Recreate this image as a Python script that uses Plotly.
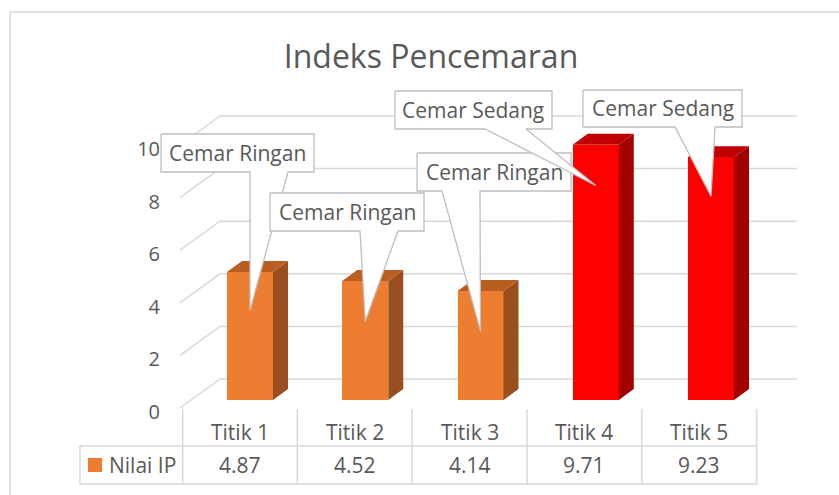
import plotly.graph_objects as go

# ---------------- data ----------------
title_text = "Indeks Pencemaran"
series_name = "Nilai IP"
categories = ["Titik 1", "Titik 2", "Titik 3", "Titik 4", "Titik 5"]
values = [4.87, 4.52, 4.14, 9.71, 9.23]
status = ["Cemar Ringan", "Cemar Ringan", "Cemar Ringan", "Cemar Sedang", "Cemar Sedang"]
y_ticks = [0, 2, 4, 6, 8, 10]
value_labels = ["4.87", "4.52", "4.14", "9.71", "9.23"]

# ---------------- style / layout ----------------
W, H = 839, 495
FONT = "Open Sans"
TXT = "#595959"
GRID = "#D9D9D9"
front_col = {"Cemar Ringan": "#ED7D31", "Cemar Sedang": "#FF0000"}
top_col = {"Cemar Ringan": "#BA5E20", "Cemar Sedang": "#C00000"}
side_col = {"Cemar Ringan": "#9A4F1E", "Cemar Sedang": "#A30000"}

X0, XS = 250.0, 115.25      # pixel of category 0, pixels per category
Y0, YS = 400.0, 26.3        # pixel of value 0 (bar front plane), pixels per unit
BW = 46 / XS                # bar width
DX, DY = 15 / XS, 11 / YS   # bar depth offsets

def xd(px):
    return (px - X0) / XS

def yd(py):
    return (Y0 - py) / YS

def paper_x(px):
    return px / W

def paper_y(py):
    return 1 - py / H

# wall / gridline geometry (pixels)
FRONT_PX, BACK_PX, RIGHT_PX = 180, 220, 797
FRONT_BASE_PY, BACK_BASE_PY = 408, 379

# table geometry
TX0, TXS = 240.0, 114.8      # table column centers
def x2d(px):
    return (px - TX0) / TXS

TABLE_LEFT_PX = 80
ROW_TOP_PY, ROW_MID_PY, ROW_BOT_PY = 409, 446, 484
CAT_PY, VAL_PY = 432, 465

# callouts: box (left, top, right, bottom) px, pointer base (left, right) px, tip fraction of bar height
callout_boxes = [(161, 134, 314, 172), (270, 193, 424, 231), (417, 153, 571, 191),
                 (395, 91, 552, 129), (583, 90, 742, 127)]
callout_bases = [(250, 288), (360, 398), (442, 480), (485, 526), (675, 715)]
tip_frac = [0.70, 0.66, 0.63, 0.84, 0.84]

fig = go.Figure()
shapes = []

# back wall gridlines (below the bars)
for v in y_ticks:
    pts = [(xd(FRONT_PX), v + yd(FRONT_BASE_PY)), (xd(BACK_PX), v + yd(BACK_BASE_PY)),
           (xd(RIGHT_PX), v + yd(BACK_BASE_PY))]
    path = "M " + " L ".join(f"{px},{py}" for px, py in pts)
    shapes.append(dict(type="path", xref="x", yref="y", path=path, layer="below",
                       line=dict(color=GRID, width=1.5)))

# bars: front faces
fig.add_trace(go.Bar(x=list(range(len(values))), y=values, width=BW,
                     marker=dict(color=[front_col[s] for s in status], line=dict(width=0)),
                     name=series_name, showlegend=False, hoverinfo="skip"))

# side and top faces
for i, v in enumerate(values):
    xl, xr = i - BW / 2, i + BW / 2
    fig.add_trace(go.Scatter(x=[xr, xr + DX, xr + DX, xr, xr], y=[0, DY, v + DY, v, 0],
                             fill="toself", fillcolor=side_col[status[i]], mode="lines",
                             line=dict(width=0, color=side_col[status[i]]),
                             hoverinfo="skip", showlegend=False))
    fig.add_trace(go.Scatter(x=[xl, xr, xr + DX, xl + DX, xl], y=[v, v, v + DY, v + DY, v],
                             fill="toself", fillcolor=top_col[status[i]], mode="lines",
                             line=dict(width=0, color=top_col[status[i]]),
                             hoverinfo="skip", showlegend=False))

# callouts
for i, v in enumerate(values):
    l, t, r, b = callout_boxes[i]
    bl, br = callout_bases[i]
    tip_x, tip_y = i, v * tip_frac[i]
    xs = [xd(l), xd(r), xd(r), xd(br), tip_x, xd(bl), xd(l), xd(l)]
    ys = [yd(t), yd(t), yd(b), yd(b), tip_y, yd(b), yd(b), yd(t)]
    fig.add_trace(go.Scatter(x=xs, y=ys, fill="toself", fillcolor="white", mode="lines",
                             line=dict(color="#BFBFBF", width=1.3),
                             hoverinfo="skip", showlegend=False))
    fig.add_annotation(x=paper_x((l + r) / 2), y=paper_y((t + b) / 2), xref="paper", yref="paper",
                       text=status[i], showarrow=False, xanchor="center", yanchor="middle",
                       font=dict(family=FONT, size=21, color=TXT))

# invisible traces to activate the secondary axes
fig.add_trace(go.Scatter(x=[0], y=[0], yaxis="y2", mode="markers", marker=dict(opacity=0),
                         hoverinfo="skip", showlegend=False))
fig.add_trace(go.Scatter(x=[0], y=[0], xaxis="x2", mode="markers", marker=dict(opacity=0),
                         hoverinfo="skip", showlegend=False))

# data table
n = len(categories)
for j in range(n + 1):
    shapes.append(dict(type="line", xref="x2", yref="paper", x0=j - 0.5, x1=j - 0.5,
                       y0=paper_y(ROW_TOP_PY), y1=paper_y(ROW_BOT_PY),
                       line=dict(color=GRID, width=1.5)))
for py in (ROW_MID_PY, ROW_BOT_PY):
    shapes.append(dict(type="line", xref="x2", yref="paper", x0=x2d(TABLE_LEFT_PX), x1=n - 0.5,
                       y0=paper_y(py), y1=paper_y(py), line=dict(color=GRID, width=1.5)))
shapes.append(dict(type="line", xref="x2", yref="paper", x0=x2d(TABLE_LEFT_PX), x1=x2d(TABLE_LEFT_PX),
                   y0=paper_y(ROW_MID_PY), y1=paper_y(ROW_BOT_PY), line=dict(color=GRID, width=1.5)))
# legend key
shapes.append(dict(type="rect", xref="paper", yref="paper", x0=paper_x(88), x1=paper_x(102),
                   y0=paper_y(472), y1=paper_y(458), fillcolor=front_col[status[0]], line=dict(width=0)))
# chart border
shapes.append(dict(type="rect", xref="paper", yref="paper", x0=paper_x(10), x1=paper_x(W + 10),
                   y0=paper_y(H + 10), y1=paper_y(12), line=dict(color=GRID, width=1.5),
                   fillcolor="rgba(0,0,0,0)", layer="below"))

for j, c in enumerate(categories):
    fig.add_annotation(x=j, y=paper_y(CAT_PY), xref="x2", yref="paper", text=c, showarrow=False,
                       xanchor="center", yanchor="middle", font=dict(family=FONT, size=21, color=TXT))
    fig.add_annotation(x=j, y=paper_y(VAL_PY), xref="x2", yref="paper", text=value_labels[j],
                       showarrow=False, xanchor="center", yanchor="middle",
                       font=dict(family=FONT, size=21, color=TXT))
fig.add_annotation(x=paper_x(107), y=paper_y(VAL_PY), xref="paper", yref="paper", text=series_name,
                   showarrow=False, xanchor="left", yanchor="middle",
                   font=dict(family=FONT, size=21, color=TXT))

LABEL_BASE_PY = 412
fig.update_layout(
    width=W, height=H, margin=dict(l=0, r=0, t=0, b=0, pad=0),
    paper_bgcolor="white", plot_bgcolor="rgba(0,0,0,0)",
    title=dict(text=title_text, x=paper_x(431), y=paper_y(57), xanchor="center", yanchor="middle",
               font=dict(family=FONT, size=32, color=TXT)),
    xaxis=dict(range=[xd(0), xd(W)], visible=False, fixedrange=True),
    yaxis=dict(range=[yd(H), yd(0)], visible=False, fixedrange=True),
    xaxis2=dict(range=[x2d(0), x2d(W)], overlaying="x", visible=False, fixedrange=True),
    yaxis2=dict(range=[(LABEL_BASE_PY - H) / YS, LABEL_BASE_PY / YS], overlaying="y",
                anchor="free", position=paper_x(160), side="left",
                tickvals=y_ticks, showgrid=False, zeroline=False, showline=False, ticks="",
                tickfont=dict(family=FONT, size=20, color=TXT), fixedrange=True),
    shapes=shapes, showlegend=False, bargap=0,
)

fig.write_html("out.html", config={"displayModeBar": False},
               post_script="document.body.style.margin='0px';")
